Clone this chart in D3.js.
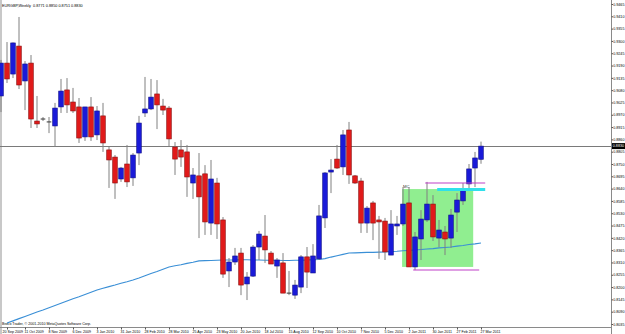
<!DOCTYPE html>
<html>
<head>
<meta charset="utf-8">
<script src="https://cdn.jsdelivr.net/npm/d3@7"></script>
<style>
  body { margin: 0; background: #fff; }
  svg { display: block; font-family: "Liberation Sans", Arial, sans-serif; }
</style>
</head>
<body>
<svg width="625" height="334"></svg>
<script>
var symbol = "EURGBP,Weekly";

var opens  = [0.9054,0.9201,0.9152,0.9277,0.9121,0.9201,0.8942,0.8951,0.8938,0.8920,
              0.9005,0.9081,0.9027,0.9005,0.8871,0.9005,0.8880,0.8965,0.8813,0.8781,
              0.8683,0.8750,0.8688,0.8799,0.8978,0.8996,0.9063,0.9009,0.9000,0.8826,
              0.8813,0.8804,0.8665,0.8697,0.8706,0.8486,0.8665,0.8500,0.8272,0.8312,
              0.8352,0.8214,0.8249,0.8379,0.8428,0.8352,0.8294,0.8308,0.8173,0.8164,
              0.8200,0.8335,0.8263,0.8326,0.8509,0.8714,0.8772,0.8737,0.8902,0.8697,
              0.8674,0.8486,0.8576,0.8500,0.8495,0.8343,0.8473,0.8482,0.8576,0.8290,
              0.8415,0.8500,0.8571,0.8419,0.8446,0.8419,0.8535,0.8585,0.8661,0.8732,
              0.8771];
var highs  = [0.9215,0.9295,0.9293,0.9407,0.9210,0.9237,0.9054,0.8960,0.8960,0.9023,
              0.9130,0.9134,0.9090,0.9045,0.9005,0.9049,0.9009,0.9023,0.8826,0.8790,
              0.8737,0.8835,0.8799,0.8965,0.9139,0.9130,0.9125,0.9041,0.9009,0.8848,
              0.8857,0.8835,0.8732,0.8799,0.8745,0.8768,0.8688,0.8513,0.8330,0.8375,
              0.8375,0.8267,0.8388,0.8451,0.8522,0.8361,0.8330,0.8352,0.8272,0.8232,
              0.8343,0.8379,0.8392,0.8567,0.8714,0.8772,0.8835,0.8902,0.8938,0.8701,
              0.8688,0.8562,0.8585,0.8518,0.8509,0.8544,0.8518,0.8647,0.8647,0.8446,
              0.8544,0.8670,0.8611,0.8500,0.8473,0.8549,0.8620,0.8665,0.8750,0.8804,
              0.8850];
var lows   = [0.8982,0.9112,0.9134,0.9085,0.8991,0.8911,0.8911,0.8942,0.8888,0.8826,
              0.8978,0.8978,0.8978,0.8844,0.8853,0.8853,0.8857,0.8804,0.8643,0.8594,
              0.8670,0.8647,0.8652,0.8745,0.8960,0.8991,0.8906,0.8969,0.8830,0.8701,
              0.8737,0.8603,0.8594,0.8419,0.8433,0.8433,0.8415,0.8241,0.8200,0.8299,
              0.8164,0.8142,0.8245,0.8321,0.8308,0.8303,0.8241,0.8173,0.8164,0.8147,
              0.8173,0.8196,0.8263,0.8321,0.8464,0.8620,0.8728,0.8701,0.8661,0.8661,
              0.8442,0.8442,0.8410,0.8326,0.8321,0.8343,0.8433,0.8473,0.8290,0.8276,
              0.8321,0.8491,0.8406,0.8379,0.8343,0.8375,0.8446,0.8567,0.8634,0.8647,
              0.8751];
var closes = [0.9201,0.9130,0.9291,0.9103,0.9197,0.8951,0.8929,0.8951,0.8938,0.9000,
              0.9076,0.9014,0.8987,0.8866,0.9005,0.8871,0.8987,0.8844,0.8768,0.8665,
              0.8732,0.8670,0.8790,0.8933,0.8996,0.9049,0.9014,0.8991,0.8862,0.8772,
              0.8781,0.8692,0.8701,0.8603,0.8491,0.8683,0.8482,0.8258,0.8312,0.8339,
              0.8209,0.8245,0.8379,0.8437,0.8366,0.8303,0.8321,0.8173,0.8173,0.8209,
              0.8335,0.8267,0.8339,0.8518,0.8710,0.8723,0.8732,0.8880,0.8701,0.8665,
              0.8486,0.8553,0.8486,0.8491,0.8357,0.8482,0.8482,0.8571,0.8290,0.8424,
              0.8504,0.8571,0.8424,0.8455,0.8415,0.8522,0.8589,0.8638,0.8728,0.8777,
              0.8830];
// moving average, first bar has no value
var maValues = [null,0.8039,0.8049,0.8059,0.8069,0.8079,0.8089,0.8098,0.8108,0.8118,
              0.8128,0.8138,0.8148,0.8157,0.8167,0.8177,0.8187,0.8195,0.8202,0.8209,
              0.8217,0.8224,0.8232,0.8241,0.8251,0.8261,0.8270,0.8280,0.8290,0.8295,
              0.8300,0.8306,0.8311,0.8317,0.8318,0.8319,0.8320,0.8321,0.8321,0.8321,
              0.8322,0.8322,0.8321,0.8321,0.8320,0.8320,0.8320,0.8319,0.8319,0.8320,
              0.8320,0.8321,0.8322,0.8323,0.8327,0.8334,0.8340,0.8346,0.8352,0.8353,
              0.8354,0.8355,0.8355,0.8356,0.8357,0.8359,0.8360,0.8362,0.8364,0.8366,
              0.8368,0.8370,0.8372,0.8375,0.8377,0.8379,0.8383,0.8386,0.8390,0.8393,
              0.8397];

var priceTicks = [0.9465,0.9410,0.9355,0.9300,0.9245,0.9190,0.9135,0.9080,0.9025,0.8970,
                  0.8915,0.8860,0.8805,0.8750,0.8695,0.8640,0.8585,0.8530,0.8475,0.8420,
                  0.8365,0.8310,0.8255,0.8200,0.8145,0.8090,0.8035];
var dateTickBars = [1,4,8,12,16,20,24,28,32,36,40,44,48,52,56,60,64,68,72,76,80];
var dateTickLabels = ["20 Sep 2009","11 Oct 2009","8 Nov 2009","6 Dec 2009","3 Jan 2010",
                  "31 Jan 2010","28 Feb 2010","28 Mar 2010","25 Apr 2010","23 May 2010",
                  "20 Jun 2010","18 Jul 2010","15 Aug 2010","12 Sep 2010","10 Oct 2010",
                  "7 Nov 2010","5 Dec 2010","2 Jan 2011","30 Jan 2011","27 Feb 2011","27 Mar 2011"];

// drawn objects, in bar / price units
var boxBars = [66.85, 78.7], boxPrices = [0.8638, 0.8290], boxLabel = "MC";
var upperLineBars = [70.7, 80.7], upperLinePrice = 0.8665;
var lowerLineBars = [68.7, 79.7], lowerLinePrice = 0.8276;
var cyanLineBars = [72.7, 80.7], cyanLinePrice = 0.8636;

var svg = d3.select("svg");
var W = 625, H = 334, plotRight = 611, plotBottom = 327;

var x = d3.scaleLinear().domain([0, 100]).range([1, 601]);
var y = d3.scaleLinear().domain([0.8035, 0.9465]).range([324, 4]);

var bars = opens.map(function(o, i) {
    return {i: i, o: o, h: highs[i], l: lows[i], c: closes[i]};
});
var last = bars[bars.length - 1];

svg.append("rect").attr("width", W).attr("height", H).attr("fill", "#fff");
svg.append("rect").attr("x", 0).attr("y", 0).attr("width", 2).attr("height", H).attr("fill", "#c8c8c8");

var plot = svg.append("g");
svg.append("clipPath").attr("id", "clip")
  .append("rect").attr("x", 0).attr("y", 0).attr("width", plotRight).attr("height", plotBottom);
plot.attr("clip-path", "url(#clip)");

// green box
plot.append("rect")
    .attr("x", x(boxBars[0]))
    .attr("y", y(boxPrices[0]))
    .attr("width", x(boxBars[1]) - x(boxBars[0]))
    .attr("height", y(boxPrices[1]) - y(boxPrices[0]))
    .attr("fill", "#90ee90");

plot.append("text")
    .attr("x", x(boxBars[0]) + 1)
    .attr("y", y(boxPrices[0]) - 1)
    .attr("font-size", 4.2)
    .attr("fill", "#333")
    .text(boxLabel);

// bid line
plot.append("line")
    .attr("x1", 0).attr("x2", plotRight)
    .attr("y1", Math.round(y(last.c)) + 0.5).attr("y2", Math.round(y(last.c)) + 0.5)
    .attr("stroke", "#7a7a7a").attr("stroke-width", 1);

// moving average
var maLine = d3.line()
    .defined(function(d) { return d != null; })
    .x(function(d, i) { return x(i); })
    .y(function(d) { return y(d); });
plot.append("path")
    .datum(maValues)
    .attr("fill", "none")
    .attr("stroke", "#3a8fd6")
    .attr("stroke-width", 1.1)
    .attr("d", maLine);

// candles
var bw = 4.6;
var candle = plot.selectAll(".candle").data(bars).enter().append("g").attr("class", "candle");
candle.append("line")
    .attr("x1", function(d) { return x(d.i); })
    .attr("x2", function(d) { return x(d.i); })
    .attr("y1", function(d) { return y(d.h); })
    .attr("y2", function(d) { return y(d.l); })
    .attr("stroke", "#808080").attr("stroke-width", 1);
candle.filter(function(d) { return d.o !== d.c; }).append("rect")
    .attr("x", function(d) { return x(d.i) - bw / 2; })
    .attr("y", function(d) { return y(Math.max(d.o, d.c)); })
    .attr("width", bw)
    .attr("height", function(d) { return Math.max(1, y(Math.min(d.o, d.c)) - y(Math.max(d.o, d.c))); })
    .attr("fill", function(d) { return d.c > d.o ? "#1a1ad8" : "#e01a1a"; })
    .attr("stroke", function(d) { return d.c > d.o ? "#10108a" : "#8a1010"; })
    .attr("stroke-width", 0.6);
candle.filter(function(d) { return d.o === d.c; }).append("line")
    .attr("x1", function(d) { return x(d.i) - bw / 2; })
    .attr("x2", function(d) { return x(d.i) + bw / 2; })
    .attr("y1", function(d) { return y(d.c); })
    .attr("y2", function(d) { return y(d.c); })
    .attr("stroke", "#333").attr("stroke-width", 1);

// magenta / cyan lines
function hline(bs, price, color, width) {
    plot.append("line")
        .attr("x1", x(bs[0])).attr("x2", x(bs[1]))
        .attr("y1", y(price)).attr("y2", y(price))
        .attr("stroke", color).attr("stroke-width", width);
}
hline(cyanLineBars, cyanLinePrice, "#30e0ea", 2.8);
hline(upperLineBars, upperLinePrice, "#c040c8", 1.1);
hline(lowerLineBars, lowerLinePrice, "#c040c8", 1.1);

// title and copyright
var fmt = d3.format(".4f");
svg.append("text")
    .attr("x", 2).attr("y", 6.6)
    .attr("font-size", 3.8).attr("fill", "#000")
    .attr("xml:space", "preserve")
    .text(symbol + "  " + [last.o, last.h, last.l, last.c].map(fmt).join(" "));

svg.append("text")
    .attr("x", 2).attr("y", 325)
    .attr("font-size", 3.6).attr("fill", "#000")
    .text("Broco Trader, \u00a9 2001-2010 MetaQuotes Software Corp.");

// right price axis
svg.append("line")
    .attr("x1", plotRight + 0.5).attr("x2", plotRight + 0.5)
    .attr("y1", 0).attr("y2", H)
    .attr("stroke", "#8a8a8a");

var yAxis = svg.append("g")
    .attr("transform", "translate(" + (plotRight + 0.5) + ",0)")
    .call(d3.axisRight(y).tickValues(priceTicks).tickFormat(fmt).tickSize(1.5).tickPadding(0.2));
yAxis.select(".domain").remove();
yAxis.selectAll("line").attr("stroke", "#555");
yAxis.selectAll("text")
    .attr("font-size", 3.7)
    .attr("font-family", "Liberation Sans, Arial, sans-serif")
    .attr("fill", "#000");

// current price marker
var py = y(last.c);
svg.append("rect")
    .attr("x", plotRight + 1).attr("y", py - 3)
    .attr("width", W - plotRight - 1).attr("height", 6)
    .attr("fill", "#000");
svg.append("text")
    .attr("x", plotRight + 1.8).attr("y", py + 1.4)
    .attr("font-size", 3.7).attr("fill", "#fff")
    .text(fmt(last.c));

// bottom time axis
svg.append("line")
    .attr("x1", 0).attr("x2", plotRight + 1)
    .attr("y1", plotBottom + 0.5).attr("y2", plotBottom + 0.5)
    .attr("stroke", "#8a8a8a");

var xAxis = svg.append("g")
    .attr("transform", "translate(0," + (plotBottom + 0.5) + ")")
    .call(d3.axisBottom(x).tickValues(dateTickBars)
        .tickFormat(function(d, i) { return dateTickLabels[i]; })
        .tickSize(2).tickPadding(1));
xAxis.select(".domain").remove();
xAxis.selectAll("line").attr("stroke", "#555");
xAxis.selectAll("text")
    .attr("text-anchor", "start")
    .attr("font-size", 3.6)
    .attr("font-family", "Liberation Sans, Arial, sans-serif")
    .attr("fill", "#000")
    .attr("dy", "0.7em")
    .attr("x", function(d, i) { return i === 0 ? 2 - x(d) : -1; });
</script>
</body>
</html>
